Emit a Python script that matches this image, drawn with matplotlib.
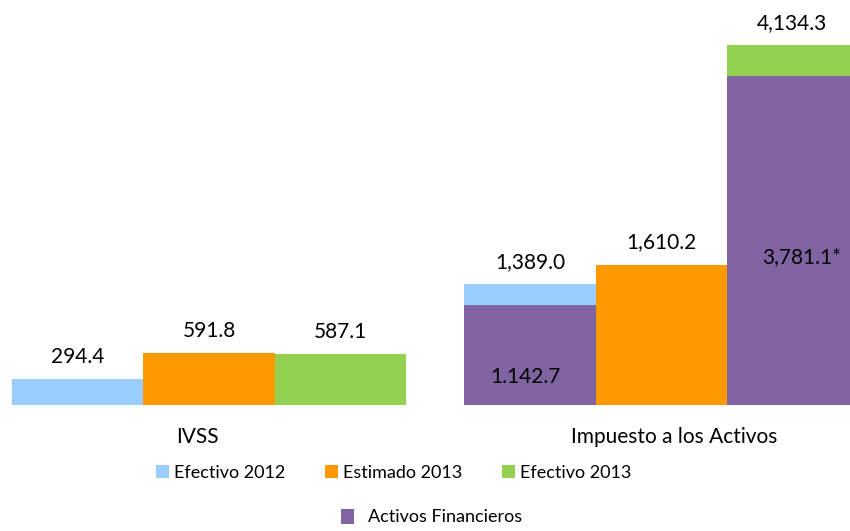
import numpy as np
import matplotlib
matplotlib.use('Agg')
from matplotlib import pyplot as plt
from matplotlib.transforms import ScaledTranslation

# data
categorias = ['IVSS', 'Impuesto a los Activos']
efectivo_2012 = [294.4, 1389.0]
estimado_2013 = [591.8, 1610.2]
efectivo_2013 = [587.1, 4134.3]
# Activos Financieros only shown for Impuesto a los Activos (over 2012 and 2013 effective bars)
activos_fin = [1142.7, 3781.1]
etiquetas_activos = ['1.142.7', '3,781.1*']

colores = {
    'Efectivo 2012': '#99CCFF',
    'Estimado 2013': '#FF9900',
    'Efectivo 2013': '#92D050',
    'Activos Financieros': '#8064A2',
}

plt.rcParams['font.family'] = ['Lato', 'DejaVu Sans']

fig = plt.figure(figsize=(8.5, 5.31), dpi=100)
ax = fig.add_axes([0, 126 / 531, 1, 1 - 126 / 531])

x = np.arange(len(categorias))
w = 0.29

b1 = ax.bar(x - w, efectivo_2012, w, color=colores['Efectivo 2012'], label='Efectivo 2012')
b2 = ax.bar(x, estimado_2013, w, color=colores['Estimado 2013'], label='Estimado 2013')
b3 = ax.bar(x + w, efectivo_2013, w, color=colores['Efectivo 2013'], label='Efectivo 2013')
b4 = ax.bar([x[1] - w, x[1] + w], activos_fin, w, color=colores['Activos Financieros'],
            label='Activos Financieros')


def fmt(v):
    return f'{v:,.1f}'


for serie, vals in ((b1, efectivo_2012), (b2, estimado_2013), (b3, efectivo_2013)):
    for rect, v in zip(serie, vals):
        ax.annotate(fmt(v), (rect.get_x() + rect.get_width() / 2, v),
                    xytext=(0, 16), textcoords='offset points',
                    ha='center', va='center', fontsize=15)

# labels inside the purple bars
ax.annotate(etiquetas_activos[0], (x[1] - w, 0), xytext=(-3, 20), textcoords='offset points',
            ha='center', va='center', fontsize=15)
ax.annotate(etiquetas_activos[1], (x[1] + w, activos_fin[1] * 0.45), xytext=(7, 0),
            textcoords='offset points', ha='center', va='center', fontsize=15)

ax.set_xlim(-0.4624, 1.418)
ax.set_ylim(0, max(efectivo_2013) * 1.125)
ax.set_xticks(x)
ax.set_xticklabels(categorias, fontsize=15)
ax.tick_params(axis='x', length=0, pad=16)
# category labels sit slightly off the group centres in the original
for lbl, dx in zip(ax.get_xticklabels(), [-12, 13]):
    lbl.set_transform(lbl.get_transform() + ScaledTranslation(dx / 100, 0, fig.dpi_scale_trans))
ax.set_yticks([])
for s in ax.spines.values():
    s.set_visible(False)

fig.legend(handles=[b1, b2, b3], loc='center', bbox_to_anchor=(394 / 850, 1 - 473 / 531),
           ncol=3, frameon=False, fontsize=13, handlelength=0.7, handleheight=0.75,
           handletextpad=0.3, columnspacing=2.2)
fig.legend(handles=[b4], loc='center', bbox_to_anchor=(432 / 850, 1 - 517 / 531),
           frameon=False, fontsize=13, handlelength=0.7, handleheight=0.9, handletextpad=0.8)

fig.savefig('out.png', dpi=100)
